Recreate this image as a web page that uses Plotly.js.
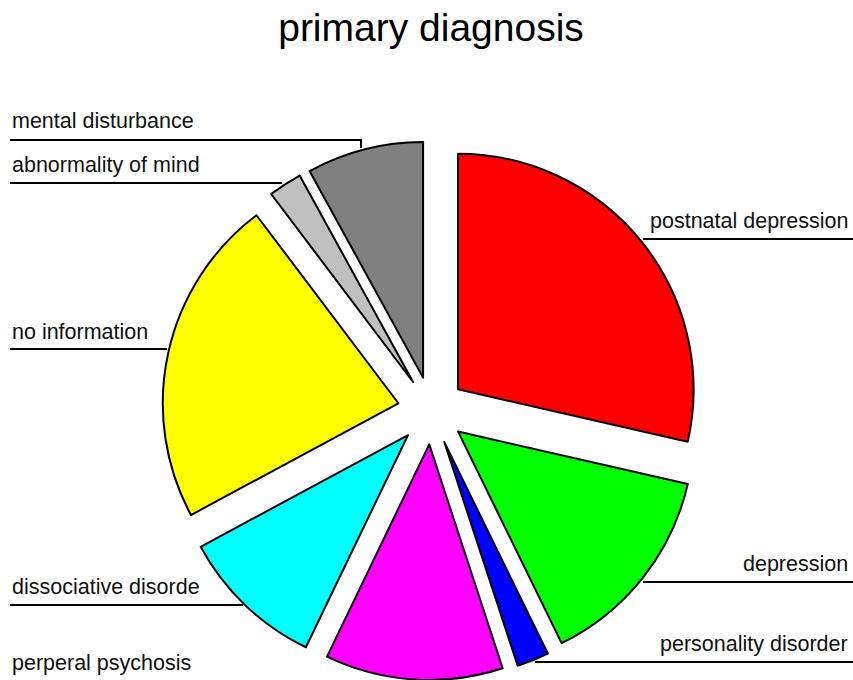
<!DOCTYPE html>
<html>
<head>
<meta charset="utf-8">
<script src="https://cdn.plot.ly/plotly-3.0.1.min.js"></script>
<style>html,body{margin:0;padding:0;background:#fff;}#chart{width:853px;height:680px;}</style>
</head>
<body>
<div id="chart"></div>
<script>
// Data
var categories = ["postnatal depression", "depression", "personality disorder", "perperal psychosis",
                  "dissociative disorde", "no information", "abnormality of mind", "mental disturbance"];
var values = [28.6, 14.2, 2.2, 12.2, 10.0, 22.6, 2.3, 8.0];
var colors = ["#FF0000", "#00FF00", "#0000FF", "#FF00FF", "#00FFFF", "#FFFF00", "#C0C0C0", "#808080"];

// Label placement (pixel layout, not data)
var W = 853, H = 680;
var labelLayout = [
  {side: "right", base: 228, line: [[643, 239], [853, 239]]},
  {side: "right", base: 571, line: [[643, 582], [853, 582]]},
  {side: "right", base: 651, line: [[535, 662], [853, 662]]},
  {side: "left",  base: 670, line: null},
  {side: "left",  base: 594, line: [[10, 605], [243, 605]]},
  {side: "left",  base: 339, line: [[10, 349], [167, 349]]},
  {side: "left",  base: 172, line: [[10, 183], [282, 183]]},
  {side: "left",  base: 128, line: [[10, 140], [361, 140], [361, 148]]}
];

var fs = 21.5;
var annotations = [];
var shapes = [];
categories.forEach(function (c, i) {
  var L = labelLayout[i];
  annotations.push({
    text: c, showarrow: false, xref: "paper", yref: "paper",
    x: L.side === "right" ? 850 / W : 10 / W,
    xanchor: L.side === "right" ? "right" : "left",
    y: 1 - (L.base - 0.3465 * fs) / H, yanchor: "middle",
    font: {family: "Liberation Sans, Arial, sans-serif", size: fs, color: "#111"}
  });
  if (L.line) {
    var path = L.line.map(function (p, k) {
      return (k ? "L" : "M") + (p[0] / W) + "," + (1 - p[1] / H);
    }).join(" ");
    shapes.push({type: "path", xref: "paper", yref: "paper", path: path,
                 line: {color: "#000", width: 2}});
  }
});

var trace = {
  type: "pie",
  labels: categories,
  values: values,
  sort: false,
  direction: "clockwise",
  rotation: 0,
  pull: 0.144,
  textinfo: "none",
  hoverinfo: "label+percent",
  marker: {colors: colors, line: {color: "#000", width: 2}},
  domain: {x: [162 / W, 701 / W], y: [0, 1 - 141 / H]},
  showlegend: false
};

var layout = {
  width: W, height: H,
  margin: {l: 0, r: 0, t: 0, b: 0},
  paper_bgcolor: "#fff",
  title: {text: "primary diagnosis", x: 431 / W, xanchor: "center",
          y: 1 - 27 / H, yanchor: "middle", yref: "container",
          font: {family: "Liberation Sans, Arial, sans-serif", size: 39, color: "#000"}},
  annotations: annotations,
  shapes: shapes,
  showlegend: false
};

Plotly.newPlot("chart", [trace], layout, {displayModeBar: false, staticPlot: true});
</script>
</body>
</html>
